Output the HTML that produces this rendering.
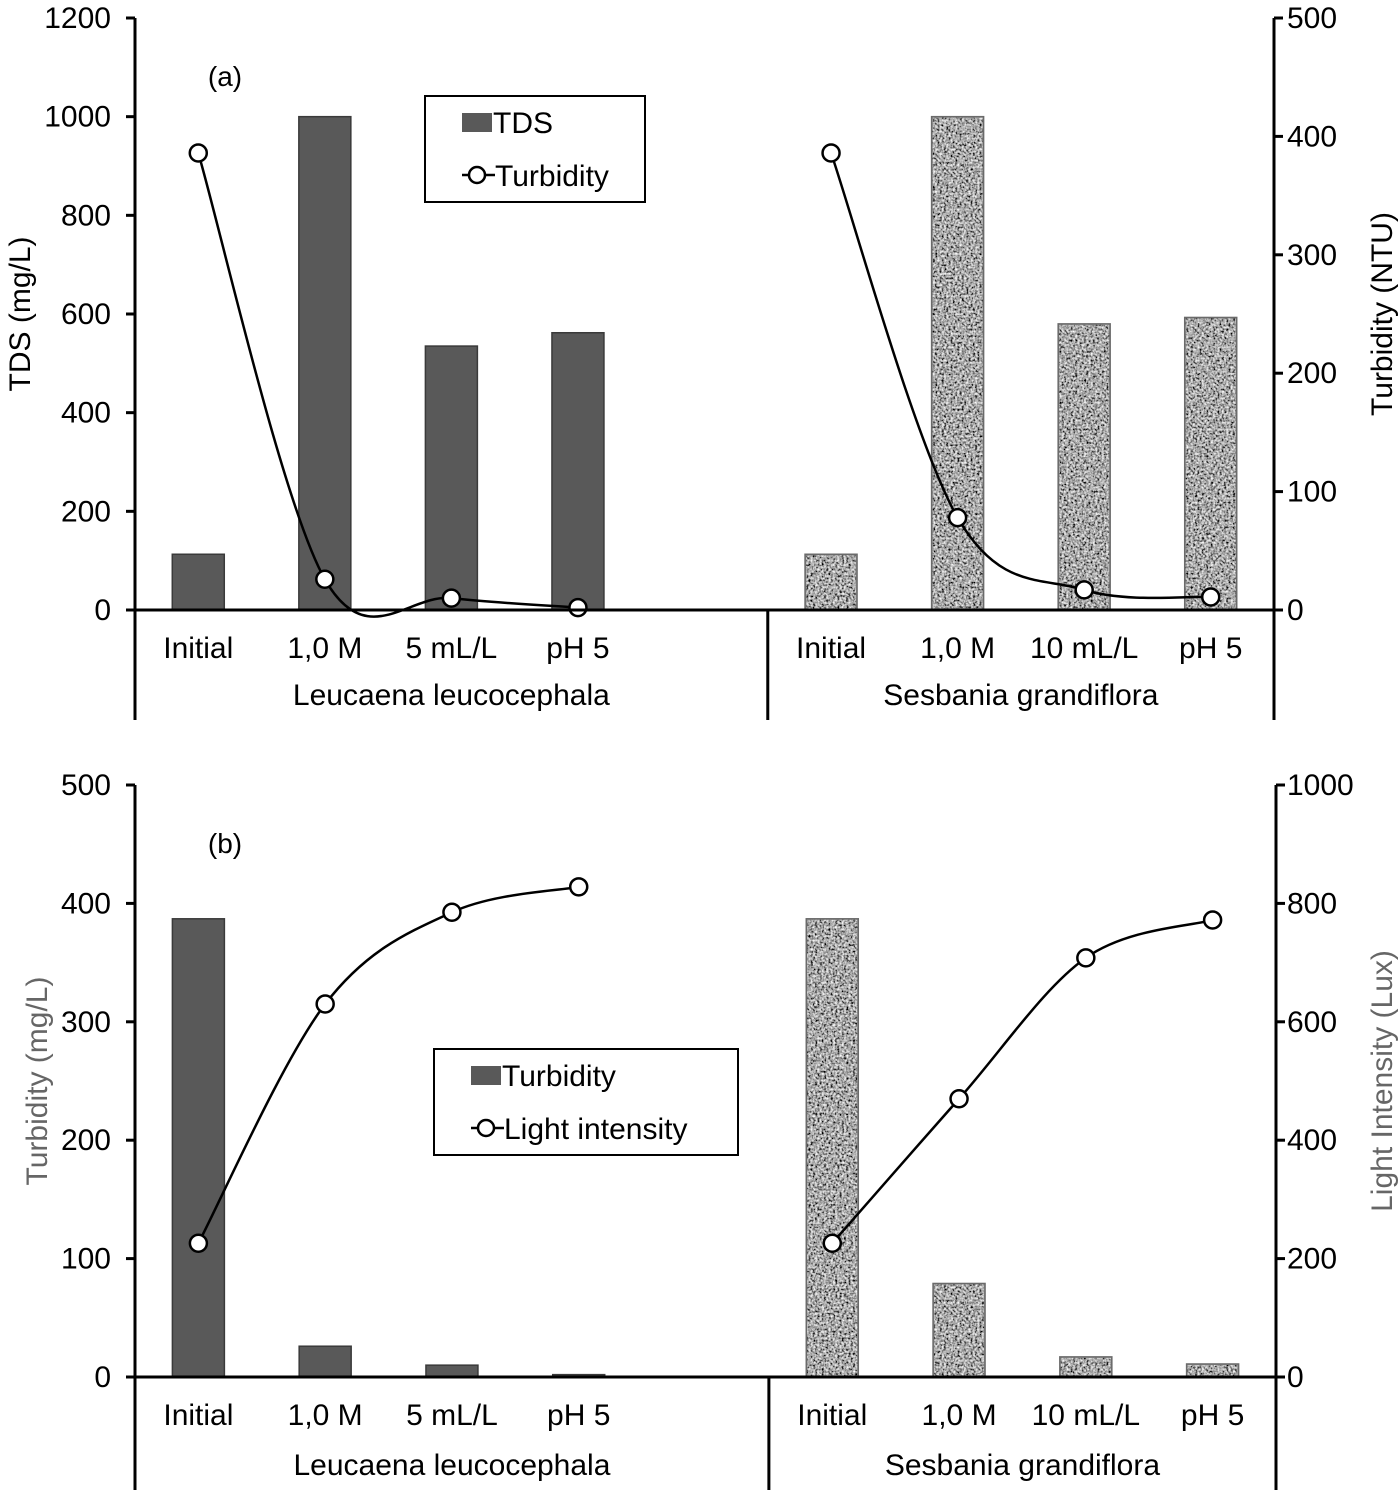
<!DOCTYPE html>
<html><head><meta charset="utf-8"><style>
html,body{margin:0;padding:0;background:#fff}
svg{display:block;font-family:"Liberation Sans",Arial,sans-serif}
</style></head><body>
<svg id="chart" width="1400" height="1493" viewBox="0 0 1400 1493" xmlns="http://www.w3.org/2000/svg">
<defs>
<filter id="speck" x="0" y="0" width="1" height="1">
<feTurbulence type="fractalNoise" baseFrequency="0.45" numOctaves="2" seed="3" result="n"/>
<feColorMatrix in="n" type="matrix" values="1.7 0 0 0 -0.45  1.7 0 0 0 -0.45  1.7 0 0 0 -0.45  0 0 0 0 1" result="g"/>
<feComposite in="g" in2="SourceGraphic" operator="in"/>
</filter>
</defs>
</svg>
<script>
const categories=["Initial","1,0 M","5 mL/L","pH 5","","Initial","1,0 M","10 mL/L","pH 5"];
const groups=["Leucaena leucocephala","Sesbania grandiflora"];
const tdsA=[113,1000,535,562,null,113,1000,580,593];
const turbA=[386,26,10,2,null,386,78,17,11];
const turbB=[387,26,10,2,null,387,79,17,11];
const lightB=[226,630,785,828,null,226,470,708,772];
const ticksA_L=[0,200,400,600,800,1000,1200];
const ticksA_R=[0,100,200,300,400,500];
const ticksB_L=[0,100,200,300,400,500];
const ticksB_R=[0,200,400,600,800,1000];

const svg=document.getElementById('chart');
const NS='http://www.w3.org/2000/svg';
const FS=30;
function mk(tag,attrs,text){const e=document.createElementNS(NS,tag);for(const k in attrs)e.setAttribute(k,attrs[k]);if(text!==undefined)e.textContent=text;svg.appendChild(e);return e;}

function panel(p){
  const L=135,R=p.right,slot=(R-L)/9;
  const xc=i=>L+slot*(i+0.5);
  const yl=v=>p.y0-(p.y0-p.yTop)*v/p.maxL;
  const yr=v=>p.y0-(p.y0-p.yTop)*v/p.maxR;
  p.bars.forEach((v,i)=>{
    if(v===null)return;
    const bx=xc(i)-26,by=yl(v),bh=p.y0-by;
    const base=mk('rect',{x:bx,y:by,width:52,height:bh,fill:i<4?'#595959':'#8a8a8a',stroke:i<4?'#3a3a3a':'#6a6a6a','stroke-width':1.5});
    
    
    if(i>4){const t=mk('rect',{x:bx+1,y:by+1,width:50,height:Math.max(bh-1,0),fill:'#888',filter:'url(#speck)'});
      
      }
  });
  [[0,1,2,3],[5,6,7,8]].forEach(idx=>{
    const pts=idx.map(i=>[xc(i),yr(p.line[i])]);
    let d='M'+pts[0][0]+','+pts[0][1];
    for(let k=0;k<pts.length-1;k++){
      const p0=pts[Math.max(k-1,0)],p1=pts[k],p2=pts[k+1],p3=pts[Math.min(k+2,pts.length-1)];
      const t=0.5/3;
      d+=' C'+(p1[0]+(p2[0]-p0[0])*t)+','+(p1[1]+(p2[1]-p0[1])*t)+' '+(p2[0]-(p3[0]-p1[0])*t)+','+(p2[1]-(p3[1]-p1[1])*t)+' '+p2[0]+','+p2[1];
    }
    const l=mk('path',{d:d,fill:'none',stroke:'#000','stroke-width':2.5});
    
    
    pts.forEach(q=>{const c=mk('circle',{cx:q[0],cy:q[1],r:8.5,fill:'#fff',stroke:'#000','stroke-width':2.5});
      
      });
  });
  const ax=[[L,p.yTop,L,p.yBot],[R,p.yTop,R,p.yBot],[L,p.y0,R,p.y0],[L+slot*5,p.y0,L+slot*5,p.yBot]];
  ax.forEach(a=>{const e=mk('line',{x1:a[0],y1:a[1],x2:a[2],y2:a[3],stroke:'#000','stroke-width':3});
    
    });
  p.tL.forEach(v=>{const y=yl(v);
    mk('line',{x1:L-9,y1:y,x2:L,y2:y,stroke:'#000','stroke-width':3});
    const t=mk('text',{x:111,y:y+10,'font-size':FS,'text-anchor':'end'},String(v));
    
    });
  p.tR.forEach(v=>{const y=yr(v);
    mk('line',{x1:R,y1:y,x2:R+9,y2:y,stroke:'#000','stroke-width':3});
    const t=mk('text',{x:1287,y:y+10,'font-size':FS},String(v));
    
    });
  categories.forEach((c,i)=>{if(!c)return;
    const t=mk('text',{x:xc(i),y:p.y0+48,'font-size':FS,'text-anchor':'middle'},c);
    
    });
  groups.forEach((g,j)=>{
    const t=mk('text',{x:j?(L+slot*5+R)/2:(L+L+slot*5)/2,y:p.yBot-15,'font-size':FS,'text-anchor':'middle'},g);
    
    });
  const pl=mk('text',{x:225,y:p.yTop+68,'font-size':FS-2,'text-anchor':'middle'},p.label);
  
  
  const cy=(p.yTop+p.y0)/2;
  const tl=mk('text',{x:0,y:0,'font-size':FS,'text-anchor':'middle',fill:p.titleColor,transform:'translate('+p.ltx+','+cy+') rotate(-90)'},p.titleL);
  
  
  const tr=mk('text',{x:0,y:0,'font-size':FS,'text-anchor':'middle',fill:p.titleColor,transform:'translate(1392,'+cy+') rotate(-90)'},p.titleR);
  
  
  const g=p.leg;
  const box=mk('rect',{x:g.x,y:g.y,width:g.w,height:106,fill:'#fff',stroke:'#000','stroke-width':2});
  
  
  mk('rect',{x:g.x+37,y:g.y+17,width:30,height:19,fill:'#595959'});
  const t1=mk('text',{x:g.x+68,y:g.y+37,'font-size':FS},g.a);
  
  
  mk('line',{x1:g.x+37,y1:g.y+79,x2:g.x+70,y2:g.y+79,stroke:'#000','stroke-width':2.5});
  mk('circle',{cx:g.x+52,cy:g.y+79,r:8,fill:'#fff',stroke:'#000','stroke-width':2.5});
  const t2=mk('text',{x:g.x+70,y:g.y+90,'font-size':FS},g.b);
  
  
}
panel({id:'a',right:1274,y0:610,yTop:18,yBot:720,maxL:1200,maxR:500,bars:tdsA,line:turbA,tL:ticksA_L,tR:ticksA_R,
  label:'(a)',titleL:'TDS (mg/L)',titleR:'Turbidity (NTU)',titleColor:'#000',ltx:30,leg:{x:425,y:96,w:220,a:'TDS',b:'Turbidity'}});
panel({id:'b',right:1276,y0:1377,yTop:785,yBot:1490,maxL:500,maxR:1000,bars:turbB,line:lightB,tL:ticksB_L,tR:ticksB_R,
  label:'(b)',titleL:'Turbidity (mg/L)',titleR:'Light Intensity (Lux)',titleColor:'#666',ltx:47,leg:{x:434,y:1049,w:304,a:'Turbidity',b:'Light intensity'}});
</script>
</body></html>
